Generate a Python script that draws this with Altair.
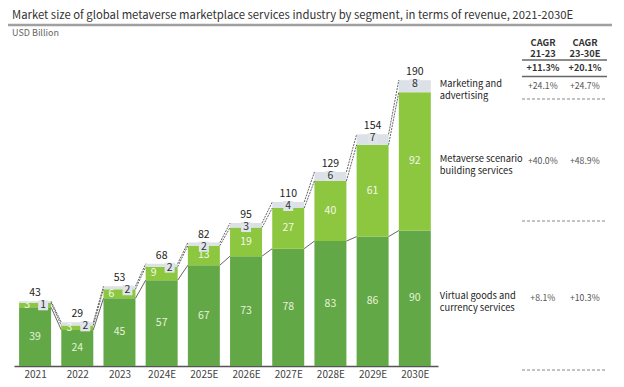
import altair as alt
import pandas as pd

years = ["2021", "2022", "2023", "2024E", "2025E", "2026E", "2027E", "2028E", "2029E", "2030E"]
virtual = [39, 24, 45, 57, 67, 73, 78, 83, 86, 90]
metaverse = [3, 3, 6, 9, 13, 19, 27, 40, 61, 92]
marketing = [1, 2, 2, 2, 2, 3, 4, 6, 7, 8]
totals = [43, 29, 53, 68, 82, 95, 110, 129, 154, 190]

segments = ["Virtual goods and\ncurrency services",
            "Metaverse scenario\nbuilding services",
            "Marketing and\nadvertising"]
cagr_21_23 = ["+8.1%", "+40.0%", "+24.1%"]
cagr_23_30 = ["+10.3%", "+48.9%", "+24.7%"]
cagr_total = ["+11.3%", "+20.1%"]
cagr_head = ["CAGR\n21-23", "CAGR\n23-30E"]

title_text = "Market size of global metaverse marketplace services industry by segment, in terms of revenue, 2021-2030E"
unit_text = "USD Billion"

FONT = "Noto Sans CJK SC"
C_DARK = "#62a846"
C_LIGHT = "#8dc63f"
C_GRAY = "#dbe1e6"

W, H = 424, 328
XDOM = [-0.5, 9.55]
YDOM = [0, 218]
HW = 0.379  # half bar width in index units
PX = W / (XDOM[1] - XDOM[0])  # pixels per index unit

# ---- build tables from arrays ----
rows = []
for i, y in enumerate(years):
    v, m, k = virtual[i], metaverse[i], marketing[i]
    rows.append(dict(idx=i, year=y, seg="v", y0=0, y1=v, x0=i - HW, x1=i + HW))
    rows.append(dict(idx=i, year=y, seg="m", y0=v, y1=v + m, x0=i - HW, x1=i + HW))
    rows.append(dict(idx=i, year=y, seg="k", y0=v + m, y1=v + m + k, x0=i - HW, x1=i + HW))
bars = pd.DataFrame(rows)

lab = pd.DataFrame(dict(
    idx=list(range(len(years))),
    v=virtual, m=metaverse, k=marketing, t=totals,
))
lab["vmid"] = lab["v"] / 2
lab["mmid"] = lab["v"] + lab["m"] / 2
lab["top"] = lab["v"] + lab["m"] + lab["k"]
lab["mx"] = [i - (8 / PX if m < 10 else 0) for i, m in zip(lab["idx"], lab["m"])]
lab["kx"] = [i + (8 / PX if i < 4 else 0) for i in lab["idx"]]

conn = []
for i in range(len(years) - 1):
    c0 = [virtual[i], virtual[i] + metaverse[i], virtual[i] + metaverse[i] + marketing[i]]
    c1 = [virtual[i + 1], virtual[i + 1] + metaverse[i + 1],
          virtual[i + 1] + metaverse[i + 1] + marketing[i + 1]]
    for j, kind in enumerate(["solid", "dash", "dash"]):
        conn.append(dict(x=i + HW, x2=i + 1 - HW, y=c0[j], y2=c1[j], kind=kind))
conn = pd.DataFrame(conn)

x_scale = alt.Scale(domain=XDOM, nice=False, zero=False)
y_scale = alt.Scale(domain=YDOM, nice=False)

label_expr = "[" + ",".join("'%s'" % y for y in years) + "][datum.value]"

bar_layer = alt.Chart(bars).mark_rect().encode(
    x=alt.X("x0:Q", scale=x_scale,
            axis=alt.Axis(values=list(range(len(years))), labelExpr=label_expr, title=None,
                          grid=False, ticks=False, domainColor="#555", domainWidth=1.5,
                          labelColor="#444", labelFont=FONT, labelFontSize=10,
                          labelPadding=3)),
    x2="x1:Q",
    y=alt.Y("y0:Q", scale=y_scale, axis=None),
    y2="y1:Q",
    color=alt.Color("seg:N", scale=alt.Scale(domain=["v", "m", "k"],
                                              range=[C_DARK, C_LIGHT, C_GRAY]), legend=None),
)

conn_solid = alt.Chart(conn).transform_filter("datum.kind == 'solid'").mark_rule(
    color="#555", strokeWidth=0.9).encode(
    x=alt.X("x:Q", scale=x_scale), x2="x2:Q", y=alt.Y("y:Q", scale=y_scale), y2="y2:Q")
conn_dash = alt.Chart(conn).transform_filter("datum.kind == 'dash'").mark_rule(
    color="#555", strokeWidth=0.9, strokeDash=[2, 1]).encode(
    x=alt.X("x:Q", scale=x_scale), x2="x2:Q", y=alt.Y("y:Q", scale=y_scale), y2="y2:Q")

v_text = alt.Chart(lab).mark_text(font=FONT, fontSize=10.5, color="#e6f2da", baseline="middle").encode(
    x=alt.X("idx:Q", scale=x_scale), y=alt.Y("vmid:Q", scale=y_scale), text="v:Q")
m_text = alt.Chart(lab).mark_text(font=FONT, fontSize=10.5, color="#f3f9ea", baseline="middle").encode(
    x=alt.X("mx:Q", scale=x_scale), y=alt.Y("mmid:Q", scale=y_scale), text="m:Q")
k_box = alt.Chart(lab).mark_square(size=100, color="#dfe5ea", opacity=1, yOffset=4).encode(
    x=alt.X("kx:Q", scale=x_scale), y=alt.Y("top:Q", scale=y_scale))
k_text = alt.Chart(lab).mark_text(font=FONT, fontSize=10.5, color="#333", baseline="middle", dy=4).encode(
    x=alt.X("kx:Q", scale=x_scale), y=alt.Y("top:Q", scale=y_scale), text="k:Q")
t_text = alt.Chart(lab).mark_text(font=FONT, fontSize=10.5, color="#222", baseline="middle", dy=-8).encode(
    x=alt.X("idx:Q", scale=x_scale), y=alt.Y("top:Q", scale=y_scale), text="t:Q")

# right-side segment labels and CAGR rows, anchored on the 2030E bar
last = len(years) - 1
seg_df = pd.DataFrame(dict(
    idx=[last] * 3,
    ymid=[virtual[last] / 2, virtual[last] + metaverse[last] / 2,
          virtual[last] + metaverse[last] + marketing[last] / 2],
    name=segments, c1=cagr_21_23, c2=cagr_23_30,
))
seg_text = alt.Chart(seg_df).mark_text(font=FONT, fontSize=9.3, color="#222", align="left",
                                       baseline="middle", dx=25, dy=-2, lineBreak="\n",
                                       lineHeight=12).encode(
    x=alt.X("idx:Q", scale=x_scale), y=alt.Y("ymid:Q", scale=y_scale), text="name:N")
c1_text = alt.Chart(seg_df).mark_text(font=FONT, fontSize=8.7, color="#555", align="center",
                                      baseline="middle", dx=128, dy=0).encode(
    x=alt.X("idx:Q", scale=x_scale), y=alt.Y("ymid:Q", scale=y_scale), text="c1:N")
c2_text = alt.Chart(seg_df).mark_text(font=FONT, fontSize=8.7, color="#555", align="center",
                                      baseline="middle", dx=170, dy=0).encode(
    x=alt.X("idx:Q", scale=x_scale), y=alt.Y("ymid:Q", scale=y_scale), text="c2:N")

# table columns, positioned in the same x units (529 and 571 px from the plot's left)
head_df = pd.DataFrame(dict(cx=[XDOM[0] + 529 / PX, XDOM[0] + 571 / PX],
                            head=cagr_head, tot=cagr_total))
head_text = alt.Chart(head_df).mark_text(font=FONT, fontSize=9.3, fontWeight="bold", color="#333",
                                         align="center", baseline="middle", lineBreak="\n",
                                         lineHeight=10.5).encode(
    x=alt.X("cx:Q", scale=x_scale), y=alt.value(5), text="head:N")
tot_text = alt.Chart(head_df).mark_text(font=FONT, fontSize=9, fontWeight="bold", color="#333",
                                        align="center", baseline="middle").encode(
    x=alt.X("cx:Q", scale=x_scale), y=alt.value(29.5), text="tot:N")

line_df = pd.DataFrame(dict(kind=["solid", "solid", "dot", "dot", "dot"],
                            py=[22, 38.5, 61, 183, 332]))
tbl_solid = alt.Chart(line_df).transform_filter("datum.kind == 'solid'").mark_rule(
    color="#666", strokeWidth=1.3).encode(x=alt.value(508), x2=alt.value(593), y=alt.Y("py:Q", scale=None))
tbl_dot = alt.Chart(line_df).transform_filter("datum.kind == 'dot'").mark_rule(
    color="#888", strokeWidth=1.2, strokeDash=[3, 2]).encode(x=alt.value(508), x2=alt.value(593),
                                                             y=alt.Y("py:Q", scale=None))

# header: title, rule, unit
hdr_df = pd.DataFrame(dict(t=[title_text], u=[unit_text]))
title_mark = alt.Chart(hdr_df).mark_text(font=FONT, fontSize=11.3, color="#333", align="left",
                                         baseline="middle").encode(
    x=alt.value(-2), y=alt.value(-22), text="t:N")
unit_mark = alt.Chart(hdr_df).mark_text(font=FONT, fontSize=9, color="#666", align="left",
                                        baseline="middle").encode(
    x=alt.value(-2), y=alt.value(-5), text="u:N")
title_rule = alt.Chart(hdr_df).mark_rule(color="#a0a0a0", strokeWidth=2.5).encode(
    x=alt.value(-8), x2=alt.value(598), y=alt.value(-13))

chart = alt.layer(
    bar_layer, conn_solid, conn_dash, v_text, m_text, k_box, k_text, t_text,
    seg_text, c1_text, c2_text, head_text, tot_text, tbl_solid, tbl_dot,
    title_mark, unit_mark, title_rule,
).properties(
    width=W, height=H,
    autosize=alt.AutoSizeParams(type="none"),
    padding={"left": 6, "top": 30, "right": 178, "bottom": 13},
).configure_view(stroke=None)

chart.save("out.html", embed_options={"renderer": "svg", "actions": False})
